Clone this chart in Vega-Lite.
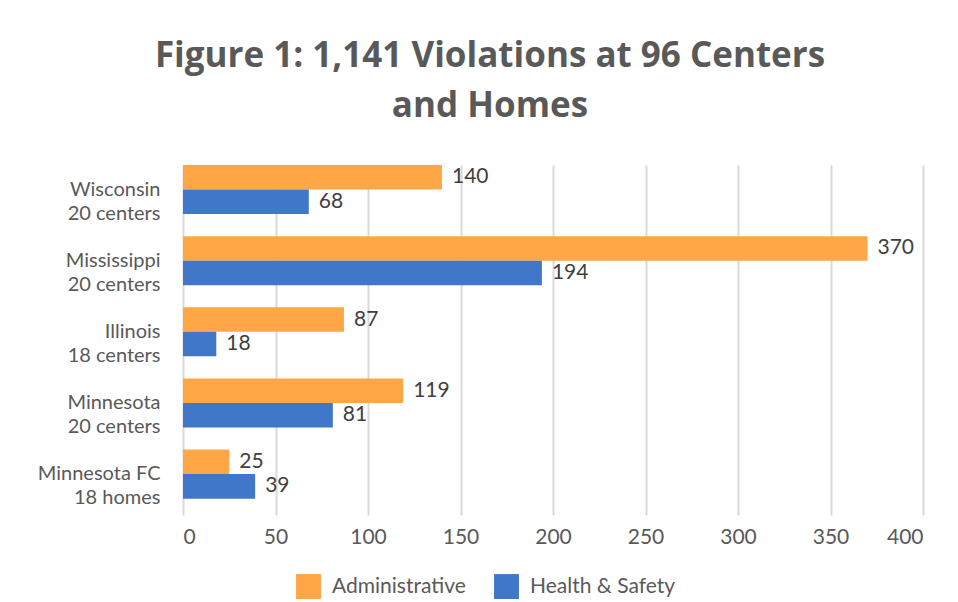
{
  "$schema": "https://vega.github.io/schema/vega-lite/v6.json",
  "autosize": "none",
  "padding": {"left": 183, "top": 165, "right": 35, "bottom": 87},
  "width": 740,
  "height": 350,
  "background": "white",
  "config": {
    "view": {"stroke": null},
    "font": "Lato"
  },
  "title": {
    "text": ["Figure 1: 1,141 Violations at 96 Centers", "and Homes"],
    "font": "Open Sans",
    "fontSize": 35,
    "fontWeight": "bold",
    "color": "#595959",
    "lineHeight": 50,
    "anchor": "middle",
    "dx": -63,
    "offset": 41
  },
  "data": {
    "values": [
      {"group": "Wisconsin|20 centers", "type": "Administrative", "value": 140},
      {"group": "Wisconsin|20 centers", "type": "Health & Safety", "value": 68},
      {"group": "Mississippi|20 centers", "type": "Administrative", "value": 370},
      {"group": "Mississippi|20 centers", "type": "Health & Safety", "value": 194},
      {"group": "Illinois|18 centers", "type": "Administrative", "value": 87},
      {"group": "Illinois|18 centers", "type": "Health & Safety", "value": 18},
      {"group": "Minnesota|20 centers", "type": "Administrative", "value": 119},
      {"group": "Minnesota|20 centers", "type": "Health & Safety", "value": 81},
      {"group": "Minnesota FC|18 homes", "type": "Administrative", "value": 25},
      {"group": "Minnesota FC|18 homes", "type": "Health & Safety", "value": 39}
    ]
  },
  "encoding": {
    "y": {
      "field": "group",
      "type": "nominal",
      "sort": null,
      "scale": {"paddingInner": 0.31, "paddingOuter": 0.115, "align": 0},
      "axis": {
        "title": null,
        "domain": false,
        "ticks": false,
        "labelExpr": "split(datum.label, '|')",
        "labelFontSize": 20,
        "labelLineHeight": 24,
        "labelColor": "#595959",
        "labelPadding": 23,
        "labelAlign": "right",
        "labelBaseline": "middle"
      }
    },
    "yOffset": {
      "field": "type",
      "type": "nominal",
      "sort": ["Administrative", "Health & Safety"],
      "scale": {"paddingInner": 0, "paddingOuter": 0}
    },
    "x": {
      "field": "value",
      "type": "quantitative",
      "scale": {"domain": [0, 400]},
      "axis": {
        "title": null,
        "values": [0, 50, 100, 150, 200, 250, 300, 350, 400],
        "domain": false,
        "ticks": false,
        "grid": true,
        "gridColor": "#d9d9d9",
        "gridWidth": 2,
        "labelFontSize": 21,
        "labelColor": "#595959",
        "labelPadding": 11
      }
    }
  },
  "layer": [
    {
      "mark": {"type": "bar"},
      "encoding": {
        "color": {
          "field": "type",
          "type": "nominal",
          "sort": ["Administrative", "Health & Safety"],
          "scale": {"domain": ["Administrative", "Health & Safety"], "range": ["#FFA647", "#4177C8"]},
          "legend": {
            "title": null,
            "orient": "none",
            "legendX": 113,
            "legendY": 409,
            "direction": "horizontal",
            "symbolType": "square",
            "symbolSize": 620,
            "symbolStrokeWidth": 0,
            "labelFontSize": 21,
            "labelColor": "#595959",
            "labelOffset": 11,
            "columnPadding": 28
          }
        }
      }
    },
    {
      "mark": {"type": "text", "align": "left", "baseline": "middle", "dx": 10, "fontSize": 21, "color": "#404040"},
      "encoding": {
        "text": {"field": "value", "type": "quantitative"}
      }
    }
  ]
}
